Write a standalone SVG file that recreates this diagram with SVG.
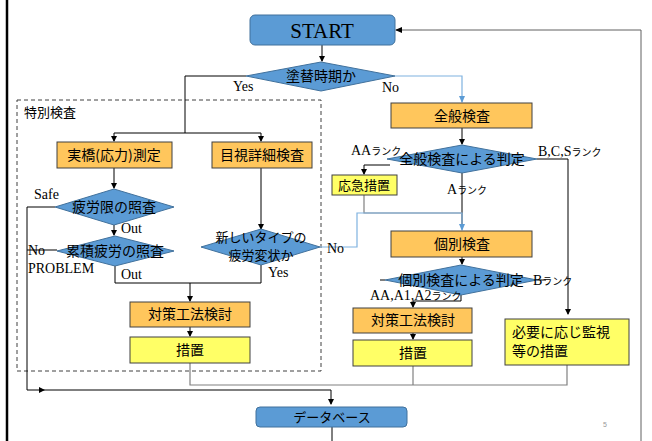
<svg xmlns="http://www.w3.org/2000/svg" width="652" height="441" viewBox="0 0 652 441">
<defs>
<marker id="ah" markerWidth="6" markerHeight="6" refX="5" refY="3" orient="auto" markerUnits="userSpaceOnUse"><path d="M0,0 L6,3 L0,6 Z" fill="#000"/></marker>
<style>
.blue{fill:#5B9BD5;stroke:#41719C;stroke-width:1}
.org{fill:#FFC65C;stroke:#404040;stroke-width:1}
.yel{fill:#FFFF66;stroke:#404040;stroke-width:1}
.jp{font-family:"Noto Sans CJK JP","Noto Sans",sans-serif;font-size:14px;fill:#000;text-anchor:middle}
.lbl{font-family:"Liberation Serif","Noto Sans CJK JP",serif;font-size:14px;fill:#000}
.rk{font-family:"Noto Sans CJK JP",sans-serif;font-size:10px}
.ln{fill:none;stroke:#000;stroke-width:1}
.gl{fill:none;stroke:#808080;stroke-width:1.2}
.bl{fill:none;stroke:#7FB2E0;stroke-width:1.2}
</style>
</defs>
<rect width="652" height="441" fill="#fff"/>
<line x1="7" y1="0" x2="7" y2="441" stroke="#000" stroke-width="2.5"/>
<g id="frame-special">
<rect x="17" y="100" width="304" height="271" fill="none" stroke="#404040" stroke-dasharray="4,3"/>
<text x="24" y="117" class="jp" style="text-anchor:start;font-size:13px">特別検査</text>
</g>
<g id="connectors">
<path class="ln" d="M322,45 V61" marker-end="url(#ah)"/>
<path class="ln" d="M246,76 H185 V133"/>
<path class="ln" d="M114,133 H261"/>
<path class="ln" d="M114,133 V141" marker-end="url(#ah)"/>
<path class="ln" d="M261,133 V141" marker-end="url(#ah)"/>
<path class="bl" d="M395,76 H462 V102"/>
<path d="M459,96 L462,103 L465,96 Z" fill="#5B9BD5"/>
<path class="ln" d="M114,168 V188" marker-end="url(#ah)"/>
<path class="ln" d="M114,225 V235" marker-end="url(#ah)"/>
<path class="ln" d="M55,207 H27 V390 H331 V404" marker-end="url(#ah)"/>
<path d="M39,387 L45,390 L39,393 Z" fill="#000"/>
<path class="ln" d="M57,250 H27"/>
<path class="ln" d="M115,266 V283 H261 V265"/>
<path class="ln" d="M190,283 V301" marker-end="url(#ah)"/>
<path class="ln" d="M190,327 V336" marker-end="url(#ah)"/>
<path class="gl" d="M190,363 V385 H567 V365"/>
<path class="gl" d="M413,366 V385"/>
<path class="ln" d="M261,168 V229" marker-end="url(#ah)"/>
<path class="ln" d="M462,128 V144" marker-end="url(#ah)"/>
<path class="ln" d="M390,165 H364 V174" marker-end="url(#ah)"/>
<path class="ln" d="M537,159 H568 V314" marker-end="url(#ah)"/>
<path class="ln" d="M462,173 V225"/>
<path class="gl" d="M364,195 V213 H462"/>
<path class="bl" d="M320,247 H357 V213 H462 V230"/>
<path d="M459,224 L462,231 L465,224 Z" fill="#5B9BD5"/>
<path class="ln" d="M462,257 V264" marker-end="url(#ah)"/>
<path class="ln" d="M461,295 V301 H413 V307" marker-end="url(#ah)"/>
<path class="ln" d="M537,280 H546"/>
<path class="ln" d="M385,280 H380"/>
<path class="ln" d="M413,333 V339" marker-end="url(#ah)"/>
<path class="ln" d="M332,427 V441"/>
<path fill="none" stroke="#606060" stroke-width="1" d="M641,441 V30 H396"/>
<path d="M402,27 L395,30 L402,33 Z" fill="#000"/>
</g>
<g id="start">
<rect x="250" y="15" width="145" height="30" rx="5" class="blue" stroke="#2F5F8F"/>
<text x="322" y="38" style="font-family:'Liberation Serif',serif;font-size:21px;text-anchor:middle">START</text>
</g>
<g id="d-paint">
<polygon points="246,76 321,62 395,76 321,91" class="blue"/>
<text x="321" y="81" class="jp">塗替時期か</text>
</g>
<text x="233" y="91" class="lbl">Yes</text>
<text x="382" y="92" class="lbl">No</text>
<g id="n-actual">
<rect x="57" y="142" width="115" height="26" class="org"/>
<text x="114" y="160" class="jp">実橋(応力)測定</text>
</g>
<g id="n-visual">
<rect x="212" y="142" width="100" height="26" class="org"/>
<text x="262" y="160" class="jp">目視詳細検査</text>
</g>
<g id="d-fatigue-limit">
<polygon points="55,207 114,189 174,207 114,225" class="blue"/>
<text x="114" y="212" class="jp">疲労限の照査</text>
</g>
<text x="34" y="199" class="lbl">Safe</text>
<text x="121" y="233" class="lbl">Out</text>
<g id="d-cumulative">
<polygon points="57,251 115,236 174,251 115,266" class="blue"/>
<text x="115" y="256" class="jp">累積疲労の照査</text>
</g>
<text x="28" y="255" class="lbl">No</text>
<text x="28" y="273" class="lbl">PROBLEM</text>
<text x="121" y="279" class="lbl">Out</text>
<g id="d-newtype">
<polygon points="201,247 261,229 320,247 261,265" class="blue"/>
<text x="261" y="242" class="jp" style="font-size:13px">新しいタイプの</text>
<text x="261" y="260" class="jp" style="font-size:13px">疲労変状か</text>
</g>
<text x="268" y="277" class="lbl">Yes</text>
<text x="327" y="253" class="lbl">No</text>
<g id="n-measure-l">
<rect x="130" y="302" width="120" height="25" class="org"/>
<text x="190" y="319" class="jp">対策工法検討</text>
</g>
<g id="n-action-l">
<rect x="130" y="337" width="120" height="26" class="yel"/>
<text x="190" y="355" class="jp">措置</text>
</g>
<g id="n-general">
<rect x="391" y="103" width="141" height="25" class="org"/>
<text x="462" y="121" class="jp">全般検査</text>
</g>
<g id="d-general">
<polygon points="387,159 462,145 537,159 462,173" class="blue"/>
<text x="462" y="164" class="jp">全般検査による判定</text>
</g>
<text x="351" y="155" class="lbl">AA<tspan class="rk">ランク</tspan></text>
<text x="538" y="156" class="lbl">B,C,S<tspan class="rk">ランク</tspan></text>
<text x="447" y="194" class="lbl">A<tspan class="rk">ランク</tspan></text>
<g id="n-emergency">
<rect x="332" y="175" width="65" height="20" class="yel"/>
<text x="364" y="190" class="jp" style="font-size:13px">応急措置</text>
</g>
<g id="n-individual">
<rect x="391" y="231" width="141" height="26" class="org"/>
<text x="462" y="249" class="jp">個別検査</text>
</g>
<g id="d-individual">
<polygon points="385,280 461,265 537,280 461,295" class="blue"/>
<text x="461" y="285" class="jp">個別検査による判定</text>
</g>
<text x="533" y="285" class="lbl">B<tspan class="rk">ランク</tspan></text>
<text x="370" y="300" class="lbl">AA,A1,A2<tspan class="rk">ランク</tspan></text>
<g id="n-measure-r">
<rect x="353" y="308" width="119" height="25" class="org"/>
<text x="413" y="325" class="jp">対策工法検討</text>
</g>
<g id="n-action-r">
<rect x="353" y="340" width="119" height="26" class="yel"/>
<text x="413" y="358" class="jp">措置</text>
</g>
<g id="n-monitor">
<rect x="505" y="319" width="124" height="46" class="yel"/>
<text x="512" y="337" class="jp" style="text-anchor:start">必要に応じ監視</text>
<text x="512" y="356" class="jp" style="text-anchor:start">等の措置</text>
</g>
<g id="n-database">
<rect x="256" y="407" width="151" height="20" rx="4" class="blue" stroke="#2F5F8F"/>
<text x="332" y="422" class="jp" style="font-size:13px">データベース</text>
</g>
<text x="603" y="427" style="font-family:'Liberation Sans',sans-serif;font-size:7px;fill:#999">5</text>
</svg>
